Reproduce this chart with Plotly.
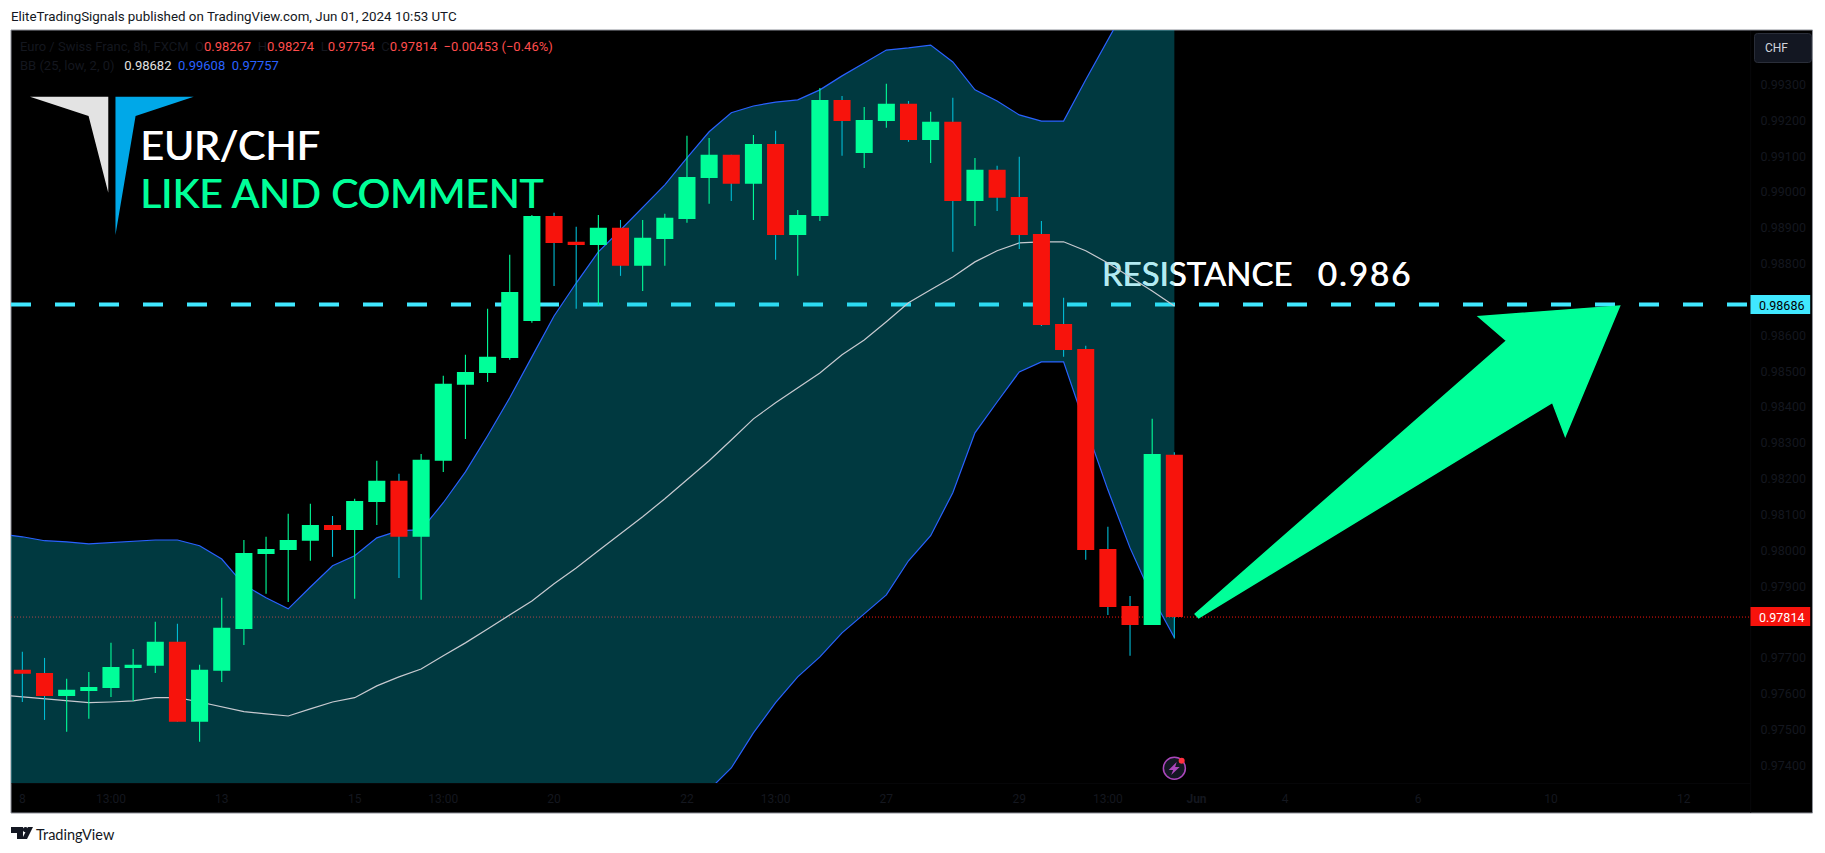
import plotly.graph_objects as go

# ---------- data ----------
opens = [.97667,.97658,.97594,.97608,.97616,.97672,.97678,.97745,.97522,.97664,.97781,.97990,.98001,.98027,.98071,.98057,.98135,.98194,.98038,.98250,.98462,.98495,.98537,.98640,.98933,.98861,.98852,.98900,.98794,.98869,.98925,.99039,.99104,.99023,.99134,.98880,.98933,.99257,.99109,.99198,.99246,.99145,.99196,.98975,.99062,.98986,.98883,.98632,.98562,.98004,.97845,.97792,.98267]
closes = [.97656,.97594,.97611,.97619,.97675,.97681,.97745,.97522,.97667,.97784,.97993,.98004,.98029,.98071,.98057,.98138,.98194,.98038,.98253,.98465,.98498,.98540,.98721,.98933,.98858,.98852,.98900,.98794,.98872,.98928,.99042,.99104,.99023,.99134,.98880,.98936,.99257,.99198,.99201,.99246,.99145,.99196,.98975,.99062,.98984,.98880,.98629,.98559,.98001,.97842,.97792,.98269,.97814]
highs = [.97717,.97700,.97642,.97661,.97742,.97725,.97801,.97795,.97681,.97868,.98029,.98038,.98102,.98130,.98096,.98144,.98250,.98214,.98269,.98487,.98546,.98674,.98825,.98936,.98942,.98903,.98936,.98922,.98922,.98939,.99157,.99151,.99104,.99159,.99171,.98950,.99290,.99268,.99237,.99302,.99254,.99224,.99263,.99095,.99073,.99098,.98919,.98705,.98571,.98066,.97873,.98367,.98274]
lows = [.97577,.97527,.97494,.97530,.97591,.97580,.97658,.97522,.97466,.97633,.97736,.97879,.97856,.97971,.97982,.97865,.98071,.97923,.97862,.98219,.98311,.98470,.98532,.98635,.98738,.98674,.98685,.98766,.98724,.98794,.98914,.98967,.98975,.98922,.98811,.98766,.98919,.99101,.99067,.99179,.99140,.99081,.98833,.98905,.98947,.98841,.98626,.98540,.97974,.97820,.97706,.97792,.97754]
candle_index = list(range(len(opens)))

band_index = list(range(-1, 53))
bb_upper = [.98046,.98038,.98027,.98024,.98018,.98021,.98024,.98029,.98029,.98013,.97976,.97904,.97868,.97837,.97898,.97957,.97985,.98035,.98055,.98057,.98133,.98219,.98320,.98426,.98540,.98654,.98746,.98833,.98894,.98958,.99020,.99095,.99168,.99221,.99240,.99251,.99257,.99285,.99324,.99360,.99396,.99402,.99410,.99363,.99285,.99254,.99215,.99198,.99198,.99313,.99422,.99536,.99580,.99608]
bb_mid = [.97597,.97591,.97586,.97580,.97575,.97577,.97580,.97589,.97589,.97577,.97563,.97550,.97544,.97538,.97558,.97577,.97589,.97622,.97647,.97669,.97706,.97742,.97781,.97820,.97859,.97907,.97951,.97999,.98046,.98094,.98144,.98197,.98250,.98308,.98367,.98412,.98453,.98495,.98546,.98587,.98638,.98691,.98727,.98763,.98805,.98836,.98858,.98861,.98861,.98836,.98802,.98763,.98724,.98682]
bb_lower = [.97148,.97145,.97145,.97137,.97131,.97134,.97137,.97148,.97148,.97142,.97151,.97195,.97220,.97240,.97218,.97198,.97192,.97209,.97240,.97282,.97279,.97265,.97243,.97215,.97178,.97159,.97156,.97164,.97198,.97229,.97268,.97298,.97332,.97393,.97491,.97575,.97647,.97703,.97770,.97823,.97876,.97971,.98041,.98161,.98328,.98414,.98498,.98526,.98526,.98345,.98169,.98007,.97870,.97757]

time_tick_index = [0,4,9,15,19,24,30,34,39,45,49,53,57,63,69,75]
time_tick_text = ["8","13:00","13","15","13:00","20","22","13:00","27","29","13:00","<b>Jun</b>","4","6","10","12"]
price_ticks = [.974,.975,.976,.977,.979,.980,.981,.982,.983,.984,.985,.986,.988,.989,.990,.991,.992,.993]

resistance = 0.98686
last_price = 0.97814

# ---------- style ----------
W, H = 1825, 853
L, R, T, B = 11, 1751.5, 30, 783
GREEN = "#00ff99"
RED = "#f7130c"
WICK_RED = "#00bcd4"
CYAN = "#40e8ff"
DIM = "#14171f"
BLUE = "#2962ff"

def px(x):
    return (x - L) / (R - L)

def py(y):
    return (B - y) / (B - T)

def poly(points, fill, layer="above", line_width=0):
    d = "M" + " L".join(f"{px(x):.6f},{py(y):.6f}" for x, y in points) + " Z"
    return dict(type="path", xref="paper", yref="paper", path=d, fillcolor=fill, layer=layer,
                line=dict(color=fill, width=line_width))

def rect(x0, y0, x1, y1, fill, layer="above", line=None, width=0):
    return dict(type="rect", xref="paper", yref="paper", x0=px(x0), x1=px(x1), y0=py(y0), y1=py(y1),
                fillcolor=fill, layer=layer, line=dict(color=line or fill, width=width))

def circle(cx, cy, r, fill, line=None, width=0):
    return dict(type="circle", xref="paper", yref="paper", x0=px(cx - r), x1=px(cx + r), y0=py(cy - r),
                y1=py(cy + r), fillcolor=fill, layer="above", line=dict(color=line or fill, width=width))

def label(x, y, text, size, color, family="Roboto", anchor="left", shadow=None, **kw):
    font = dict(family=family, size=size, color=color)
    if shadow:
        font["shadow"] = shadow
    return dict(xref="paper", yref="paper", x=px(x), y=py(y), text=text, showarrow=False, xanchor=anchor,
                yanchor="middle", font=font, borderpad=0, borderwidth=0, **kw)

def span(text, color):
    return f'<span style="color:{color}">{text}</span>'

def wick_path(keep):
    xs, ys = [], []
    for i in candle_index:
        if keep(opens[i], closes[i]):
            xs += [i, i, None]
            ys += [lows[i], highs[i], None]
    return xs, ys

fig = go.Figure()

# text under the band, so the band tints it
fig.add_trace(go.Scatter(x=[48.72], y=[.98762], mode="text",
                         text=["RESISTANCE\u00a0\u00a0\u00a00\u200a.\u200a9\u200a8\u200a6"],
                         textposition="middle right",
                         textfont=dict(family="Lato", size=33, color="#ffffff",
                                       shadow="0.6px 0 0 #ffffff"),
                         hoverinfo="skip"))
fig.add_trace(go.Scatter(x=band_index, y=bb_lower, mode="lines", line=dict(color=BLUE, width=1.2), hoverinfo="skip"))
fig.add_trace(go.Scatter(x=band_index, y=bb_upper, mode="lines", line=dict(color=BLUE, width=1.2), fill="tonexty",
                         fillcolor="rgba(0,188,212,0.3)", hoverinfo="skip"))
fig.add_trace(go.Scatter(x=band_index, y=bb_mid, mode="lines", line=dict(color="#c8cad0", width=1.2), hoverinfo="skip"))

wx_up, wy_up = wick_path(lambda o, c: c >= o)
wx_dn, wy_dn = wick_path(lambda o, c: c < o)
fig.add_trace(go.Scatter(x=wx_up, y=wy_up, mode="lines", line=dict(color=GREEN, width=1.1), zorder=1, hoverinfo="skip"))
fig.add_trace(go.Scatter(x=wx_dn, y=wy_dn, mode="lines", line=dict(color=WICK_RED, width=1.1), zorder=1, hoverinfo="skip"))

fig.add_trace(go.Candlestick(x=candle_index, open=opens, high=highs, low=lows, close=closes, zorder=2,
                             increasing=dict(line=dict(color=GREEN, width=0), fillcolor=GREEN),
                             decreasing=dict(line=dict(color=RED, width=0), fillcolor=RED)))

shapes = [
    # chart frame
    rect(11, 30, 1813, 813, "#000000", layer="below", line="#8d9099", width=1),
    rect(11.5, 783, 1751, 783.6, "#0c0d11", layer="below"),
    rect(1751, 31, 1751.6, 813, "#0c0d11", layer="below"),
    # horizontal levels
    dict(type="line", xref="paper", yref="y", x0=0, x1=1, y0=resistance, y1=resistance, layer="below",
         line=dict(color=CYAN, width=4, dash="20px,24px")),
    dict(type="line", xref="paper", yref="y", x0=0, x1=1, y0=last_price, y1=last_price, layer="below",
         line=dict(color=RED, width=1, dash="1px,2px")),
    # arrow
    poly([(1195.5, 614), (1199, 617.7), (1552.9, 402.3), (1565.7, 436), (1620, 306), (1479, 316.7), (1507, 340.7)],
         GREEN, line_width=1.5),
    # logo
    poly([(30, 96.7), (108.3, 96.7), (108.3, 192.7), (88.6, 116)], "#e3e3e3"),
    poly([(115.5, 96.7), (193.8, 96.7), (135.6, 116), (115.5, 235)], "#00a8e8"),
    # price labels
    rect(1751, 295, 1810.7, 314, CYAN),
    rect(1751, 607, 1810.7, 626, RED),
    # currency button
    dict(type="path", xref="paper", yref="paper", layer="above", fillcolor="#131722",
         line=dict(color="#2a2e39", width=1),
         path=(f"M{px(1758):.6f},{py(33.5):.6f} L{px(1809):.6f},{py(33.5):.6f} "
               f"Q{px(1812):.6f},{py(33.5):.6f} {px(1812):.6f},{py(36.5):.6f} "
               f"L{px(1812):.6f},{py(59.5):.6f} Q{px(1812):.6f},{py(62.5):.6f} {px(1809):.6f},{py(62.5):.6f} "
               f"L{px(1758):.6f},{py(62.5):.6f} Q{px(1755):.6f},{py(62.5):.6f} {px(1755):.6f},{py(59.5):.6f} "
               f"L{px(1755):.6f},{py(36.5):.6f} Q{px(1755):.6f},{py(33.5):.6f} {px(1758):.6f},{py(33.5):.6f} Z")),
    # flash icon
    circle(1174.7, 768.3, 11, "#131722", line="#ab47bc", width=1.5),
    poly([(1177, 762), (1169, 770), (1173.5, 770), (1171.5, 775), (1180, 767), (1175.5, 767)], "#ab47bc"),
    circle(1182, 760.7, 3, "#ff3040"),
    # brand mark in the footer
    poly([(11, 827), (23, 827), (23, 839), (17, 839), (17, 833), (11, 833)], "#131722"),
    circle(25.5, 829.6, 2.6, "#131722"),
    poly([(28, 827), (33, 827), (27, 839), (22, 839)], "#131722"),
]

ohlc_line = (
    span("Euro / Swiss Franc, 8h, FXCM", DIM) + "\u00a0\u00a0"
    + span("O", DIM) + span("0.98267", "#ff4d4d") + "\u00a0\u00a0"
    + span("H", DIM) + span("0.98274", "#ff4d4d") + "\u00a0\u00a0"
    + span("L", DIM) + span("0.97754", "#ff4d4d") + "\u00a0\u00a0"
    + span("C", DIM) + span("0.97814", "#ff4d4d") + "\u00a0\u00a0"
    + span("\u22120.00453 (\u22120.46%)", "#ff4d4d")
)
bb_line = (
    span("BB (25, low, 2, 0)", DIM) + "\u00a0\u00a0\u00a0"
    + span("0.98682", "#e0e0e0") + "\u00a0\u00a0"
    + span("0.99608", BLUE) + "\u00a0\u00a0"
    + span("0.97757", BLUE)
)

annotations = [
    label(11.5, 16.5, "EliteTradingSignals published on TradingView.com, Jun 01, 2024 10:53 UTC", 13.35, "#131722"),
    label(20.5, 46.7, ohlc_line, 13, DIM),
    label(20.5, 65.7, bb_line, 13, DIM),
    label(140, 144.5, "EUR/CHF", 41, "#ffffff", family="Lato", shadow="0.8px 0 0 #ffffff"),
    label(140, 192.5, "LIKE AND COMMENT", 40.5, GREEN, family="Lato", shadow="0.8px 0 0 #00ff99"),
    label(1765.7, 48, "CHF", 12, "#d1d4dc"),
    label(1760, 305, "0.98686", 12.5, "#000000"),
    label(1760, 617, "0.97814", 12.5, "#ffffff"),
    label(36, 834, "TradingView", 14.5, "#131722", family="Lato"),
]

fig.update_layout(
    width=W, height=H,
    margin=dict(l=L, r=W - R, t=T, b=H - B, pad=0),
    paper_bgcolor="#ffffff", plot_bgcolor="#000000",
    showlegend=False, boxmode="overlay", boxgap=0.23, boxgroupgap=0, dragmode=False,
    shapes=shapes, annotations=annotations,
    font=dict(family="Roboto", size=12, color=DIM),
    xaxis=dict(range=[-0.513, 78.03], tickmode="array", tickvals=time_tick_index, ticktext=time_tick_text,
               rangeslider=dict(visible=False), showgrid=False, zeroline=False, showline=False,
               ticks="outside", ticklen=5, tickcolor="rgba(0,0,0,0)", tickfont=dict(family="Roboto", size=12, color=DIM)),
    yaxis=dict(range=[.97351, .99452], side="right", tickmode="array", tickvals=price_ticks, tickformat=".5f",
               showgrid=False, zeroline=False, showline=False,
               ticks="outside", ticklen=6, tickcolor="rgba(0,0,0,0)", tickfont=dict(family="Roboto", size=12.5, color=DIM)),
)

fig.write_html("out.html", config={"displayModeBar": False},
               post_script="document.body.style.margin='0';document.body.style.overflow='hidden';")
